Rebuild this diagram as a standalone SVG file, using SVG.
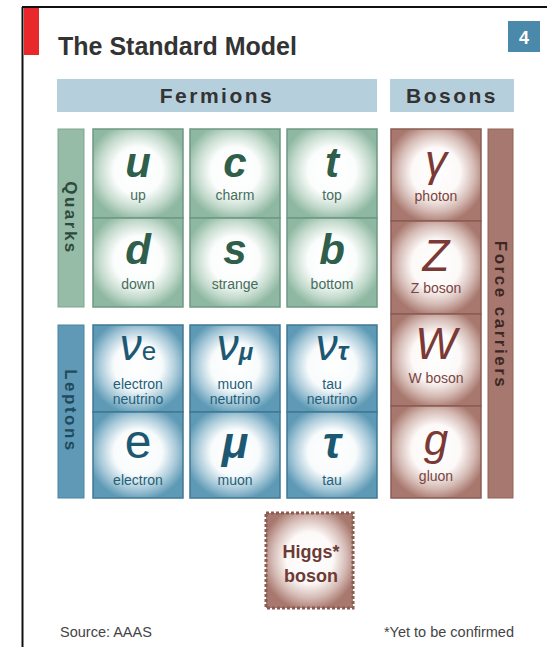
<svg xmlns="http://www.w3.org/2000/svg" width="547" height="647" viewBox="0 0 547 647">
<defs>
<radialGradient id="gG" cx="0.5" cy="0.47" r="0.56">
<stop offset="0" stop-color="#ffffff"/><stop offset="0.48" stop-color="#fbfdfc"/><stop offset="0.76" stop-color="#c6dccf"/><stop offset="1" stop-color="#8fb8a2"/>
</radialGradient>
<radialGradient id="gB" cx="0.5" cy="0.47" r="0.56">
<stop offset="0" stop-color="#ffffff"/><stop offset="0.48" stop-color="#f8fbfc"/><stop offset="0.76" stop-color="#a9cad9"/><stop offset="1" stop-color="#5e9ab6"/>
</radialGradient>
<radialGradient id="gR" cx="0.5" cy="0.47" r="0.56">
<stop offset="0" stop-color="#ffffff"/><stop offset="0.48" stop-color="#fcf9f8"/><stop offset="0.76" stop-color="#d5bbb5"/><stop offset="1" stop-color="#a8786e"/>
</radialGradient>
<style>
.t{font-family:"Liberation Sans",Arial,sans-serif}
.title{font-size:25px;font-weight:bold;fill:#333}
.band{fill:#b6cfdc}
.bandt{font-size:21px;font-weight:bold;fill:#333;letter-spacing:2.5px;text-anchor:middle}
.side{font-size:17px;font-weight:bold;letter-spacing:2.5px;text-anchor:middle}
.q{fill:url(#gG);stroke:#6f9884;stroke-width:1.5}
.l{fill:url(#gB);stroke:#3f7894;stroke-width:1.5}
.b{fill:url(#gR);stroke:#8a5c53;stroke-width:1.5}
.qs{font-size:42px;font-weight:bold;font-style:italic;fill:#2f5e4b;text-anchor:middle}
.ls{font-size:44px;font-weight:bold;font-style:italic;fill:#1d5873;text-anchor:middle}
.nu{font-size:44px;font-weight:normal;font-style:italic;fill:#1d5873;text-anchor:middle}
.eu{font-size:48px;font-weight:normal;font-style:normal;fill:#1d5873;text-anchor:middle}
.bs{font-size:44px;font-style:italic;fill:#7b3936;text-anchor:middle}
.ql{font-size:14px;fill:#466e5c;text-anchor:middle}
.ll{font-size:14px;fill:#235f7a;text-anchor:middle}
.bl{font-size:14px;fill:#7b4440;text-anchor:middle}
.foot{font-size:14.5px;fill:#444}
</style>
</defs>
<rect width="547" height="647" fill="#fff"/>
<g id="frame">
<line x1="22.5" y1="7" x2="22.5" y2="647" stroke="#111" stroke-width="2"/>
<line x1="22" y1="7" x2="547" y2="7" stroke="#111" stroke-width="2"/>
<rect x="24" y="8" width="15" height="47" fill="#e8282b"/>
</g>
<g id="title"><text class="t title" x="58" y="55">The Standard Model</text></g>
<g id="badge"><rect x="508" y="21" width="32" height="31" fill="#4b89aa"/><text class="t" x="524" y="44" font-size="18" font-weight="bold" fill="#fff" text-anchor="middle">4</text></g>
<g id="fermions"><rect class="band" x="57" y="79" width="320" height="33"/><text class="t bandt" x="217" y="103">Fermions</text></g>
<g id="bosons"><rect class="band" x="390" y="79" width="124" height="33"/><text class="t bandt" x="452" y="103">Bosons</text></g>
<g id="quarks-label"><rect x="58" y="129" width="26" height="178" fill="#96bca7" stroke="#7ea592"/><text class="t side" transform="translate(71,218) rotate(90)" y="6" fill="#2e4a3e">Quarks</text></g>
<g id="leptons-label"><rect x="58" y="325" width="26" height="173" fill="#5f99b5" stroke="#4a84a0"/><text class="t side" transform="translate(71,411) rotate(90)" y="6" fill="#1f4a5e">Leptons</text></g>
<g id="force-label"><rect x="488" y="129" width="25" height="369" fill="#a6786f" stroke="#916359"/><text class="t side" transform="translate(500.5,315) rotate(90)" y="6" fill="#3e2622">Force carriers</text></g>
<g id="up"><rect class="q" x="93" y="129" width="90" height="89"/><text class="t qs" x="138" y="177">u</text><text class="t ql" x="138" y="200">up</text></g>
<g id="charm"><rect class="q" x="190" y="129" width="90" height="89"/><text class="t qs" x="235" y="177">c</text><text class="t ql" x="235" y="200">charm</text></g>
<g id="top"><rect class="q" x="287" y="129" width="90" height="89"/><text class="t qs" x="332" y="177">t</text><text class="t ql" x="332" y="200">top</text></g>
<g id="down"><rect class="q" x="93" y="218" width="90" height="89"/><text class="t qs" x="138" y="264">d</text><text class="t ql" x="138" y="289">down</text></g>
<g id="strange"><rect class="q" x="190" y="218" width="90" height="89"/><text class="t qs" x="235" y="264">s</text><text class="t ql" x="235" y="289">strange</text></g>
<g id="bottom"><rect class="q" x="287" y="218" width="90" height="89"/><text class="t qs" x="332" y="264">b</text><text class="t ql" x="332" y="289">bottom</text></g>
<g id="electron-neutrino"><rect class="l" x="93" y="325" width="90" height="87"/><text class="t nu" x="138" y="360">ν<tspan style="font-size:26px;font-style:normal">e</tspan></text><text class="t ll" x="138" y="389">electron</text><text class="t ll" x="138" y="404">neutrino</text></g>
<g id="muon-neutrino"><rect class="l" x="190" y="325" width="90" height="87"/><text class="t nu" x="235" y="360">ν<tspan style="font-size:24px;font-weight:bold">μ</tspan></text><text class="t ll" x="235" y="389">muon</text><text class="t ll" x="235" y="404">neutrino</text></g>
<g id="tau-neutrino"><rect class="l" x="287" y="325" width="90" height="87"/><text class="t nu" x="332" y="360">ν<tspan style="font-size:26px;font-weight:bold">τ</tspan></text><text class="t ll" x="332" y="389">tau</text><text class="t ll" x="332" y="404">neutrino</text></g>
<g id="electron"><rect class="l" x="93" y="412" width="90" height="86"/><text class="t eu" x="138" y="458">e</text><text class="t ll" x="138" y="485">electron</text></g>
<g id="muon"><rect class="l" x="190" y="412" width="90" height="86"/><text class="t ls" x="235" y="458">μ</text><text class="t ll" x="235" y="485">muon</text></g>
<g id="tau"><rect class="l" x="287" y="412" width="90" height="86"/><text class="t ls" x="332" y="458">τ</text><text class="t ll" x="332" y="485">tau</text></g>
<g id="photon"><rect class="b" x="391" y="129" width="90" height="92"/><text class="t bs" x="436" y="176">γ</text><text class="t bl" x="436" y="201">photon</text></g>
<g id="z-boson"><rect class="b" x="391" y="221" width="90" height="93"/><text class="t bs" x="436" y="271">Z</text><text class="t bl" x="436" y="293">Z boson</text></g>
<g id="w-boson"><rect class="b" x="391" y="314" width="90" height="92"/><text class="t bs" x="436" y="359">W</text><text class="t bl" x="436" y="383">W boson</text></g>
<g id="gluon"><rect class="b" x="391" y="406" width="90" height="92"/><text class="t bs" x="436" y="455">g</text><text class="t bl" x="436" y="481">gluon</text></g>
<g id="higgs"><rect x="266" y="513" width="87" height="95" fill="url(#gR)" stroke="#8a5c53" stroke-width="3" stroke-dasharray="3 2"/><text class="t" x="311" y="558" font-size="18" font-weight="bold" fill="#6e3a36" text-anchor="middle">Higgs*</text><text class="t" x="311" y="582" font-size="18" font-weight="bold" fill="#6e3a36" text-anchor="middle">boson</text></g>
<g id="footer"><text class="t foot" x="60" y="637">Source: AAAS</text><text class="t foot" x="514" y="637" text-anchor="end">*Yet to be confirmed</text></g>
</svg>
